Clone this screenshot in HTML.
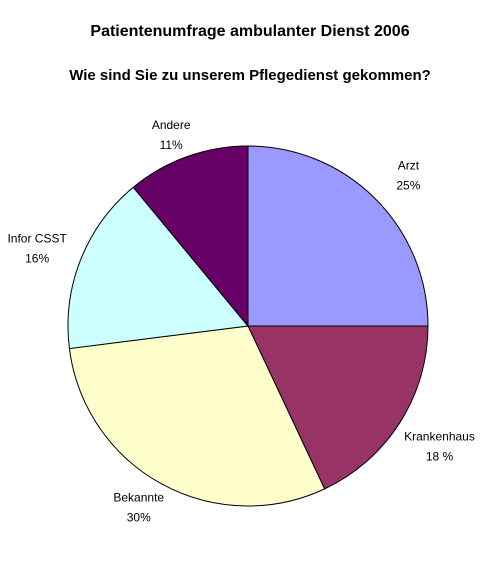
<!DOCTYPE html>
<html><head><meta charset="utf-8"><style>
body{margin:0;background:#fff;width:500px;height:576px;overflow:hidden;font-family:"Liberation Sans",sans-serif}
</style></head><body>
<svg width="500" height="576" id="chart">
<text x="250" y="36" text-anchor="middle" font-size="16" font-weight="bold">Patientenumfrage ambulanter Dienst 2006</text>
<text x="250" y="80" text-anchor="middle" font-size="15" font-weight="bold">Wie sind Sie zu unserem Pflegedienst gekommen?</text>
<g id="slices"></g><g id="labels"></g>
</svg>
<script>
const categories=["Arzt","Krankenhaus","Bekannte","Infor CSST","Andere"];
const values=[25,18,30,16,11];
const valueLabels=["25%","18 %","30%","16%","11%"];
const colors=["#9999ff","#993366","#ffffcc","#ccffff","#660066"];
const labelDy=[0,3,-10,0,10];
const cx=248,cy=326,r=180,NS="http://www.w3.org/2000/svg";
const total=values.reduce((a,b)=>a+b,0);
const sg=document.getElementById("slices"),lg=document.getElementById("labels");
let a0=-Math.PI/2;
values.forEach((v,i)=>{
 const a1=a0+v/total*2*Math.PI;
 const x0=cx+r*Math.cos(a0),y0=cy+r*Math.sin(a0),x1=cx+r*Math.cos(a1),y1=cy+r*Math.sin(a1);
 const p=document.createElementNS(NS,"path");
 p.setAttribute("d",`M${cx},${cy}L${x0},${y0}A${r},${r} 0 ${a1-a0>Math.PI?1:0} 1 ${x1},${y1}Z`);
 p.setAttribute("fill",colors[i]);p.setAttribute("stroke","#000");p.setAttribute("stroke-width","1");
 
 
 sg.appendChild(p);
 const am=(a0+a1)/2,lr=r+36;
 const lx=cx+lr*Math.cos(am)*1.05,ly=cy+lr*Math.sin(am)+labelDy[i];
 const t=document.createElementNS(NS,"text");
 t.setAttribute("x",lx);t.setAttribute("y",ly-4);t.setAttribute("text-anchor","middle");t.setAttribute("font-size","12");
 t.textContent=categories[i];
 
 
 lg.appendChild(t);
 const t2=document.createElementNS(NS,"text");
 t2.setAttribute("x",lx);t2.setAttribute("y",ly+16);t2.setAttribute("text-anchor","middle");t2.setAttribute("font-size","12");
 t2.textContent=valueLabels[i];
 
 
 lg.appendChild(t2);
 a0=a1;
});
</script>
</body></html>
